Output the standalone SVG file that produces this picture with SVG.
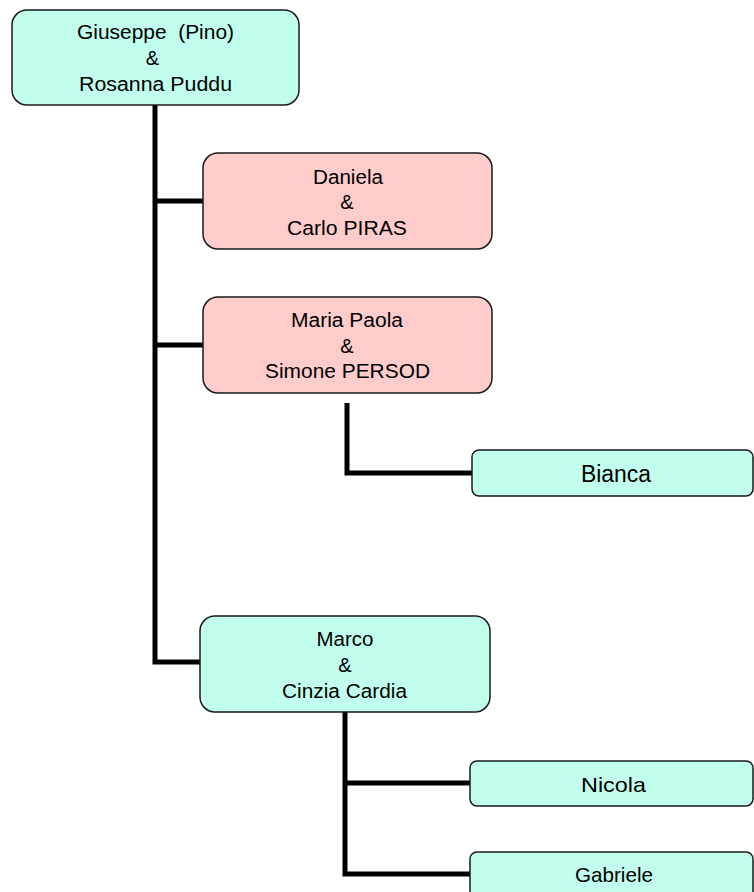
<svg xmlns="http://www.w3.org/2000/svg" width="754" height="892" viewBox="0 0 754 892">
<style>
.box{stroke:#1a1a1a;stroke-width:1.5}
.cy{fill:#c1feee}
.pk{fill:#ffcccc}
.t{font-family:"Liberation Sans",Arial,sans-serif;font-size:20px;fill:#000;text-anchor:middle}
.c{fill:none;stroke:#000;stroke-width:5}
</style>
<rect width="754" height="892" fill="#fff"/>
<g id="connectors">
<path class="c" d="M155,104 V662 H201"/>
<path class="c" d="M155,201 H203"/>
<path class="c" d="M155,345 H203"/>
<path class="c" d="M347,403 V473 H472"/>
<path class="c" d="M345,712 V874 H470"/>
<path class="c" d="M345,783 H470"/>
</g>
<g id="n1"><rect class="box cy" x="12" y="10" width="287" height="95" rx="15"/>
<text class="t" x="155.5" y="39" xml:space="preserve" textLength="157" lengthAdjust="spacingAndGlyphs">Giuseppe  (Pino)</text><text class="t" x="152.5" y="65">&amp;</text><text class="t" x="155.5" y="91" textLength="153" lengthAdjust="spacingAndGlyphs">Rosanna Puddu</text></g>
<g id="n2"><rect class="box pk" x="203" y="153" width="289" height="96" rx="15"/>
<text class="t" x="348" y="184" textLength="70" lengthAdjust="spacingAndGlyphs">Daniela</text><text class="t" x="347" y="209">&amp;</text><text class="t" x="347" y="235" textLength="120" lengthAdjust="spacingAndGlyphs">Carlo PIRAS</text></g>
<g id="n3"><rect class="box pk" x="203" y="297" width="289" height="96" rx="15"/>
<text class="t" x="347" y="327" textLength="112" lengthAdjust="spacingAndGlyphs">Maria Paola</text><text class="t" x="347" y="353">&amp;</text><text class="t" x="347.5" y="378" textLength="165" lengthAdjust="spacingAndGlyphs">Simone PERSOD</text></g>
<g id="n4"><rect class="box cy" x="472" y="450" width="281" height="46" rx="7"/>
<text class="t" x="616" y="482" style="font-size:23px" textLength="70" lengthAdjust="spacingAndGlyphs">Bianca</text></g>
<g id="n5"><rect class="box cy" x="200" y="616" width="290" height="96" rx="15"/>
<text class="t" x="345" y="646" textLength="57" lengthAdjust="spacingAndGlyphs">Marco</text><text class="t" x="345" y="672">&amp;</text><text class="t" x="344.5" y="698" textLength="125" lengthAdjust="spacingAndGlyphs">Cinzia Cardia</text></g>
<g id="n6"><rect class="box cy" x="470" y="761" width="283" height="45" rx="7"/>
<text class="t" x="613.5" y="792" style="font-size:21px" textLength="65" lengthAdjust="spacingAndGlyphs">Nicola</text></g>
<g id="n7"><rect class="box cy" x="470" y="852" width="283" height="46" rx="7"/>
<text class="t" x="614" y="882" style="font-size:21px" textLength="78" lengthAdjust="spacingAndGlyphs">Gabriele</text></g>
</svg>
